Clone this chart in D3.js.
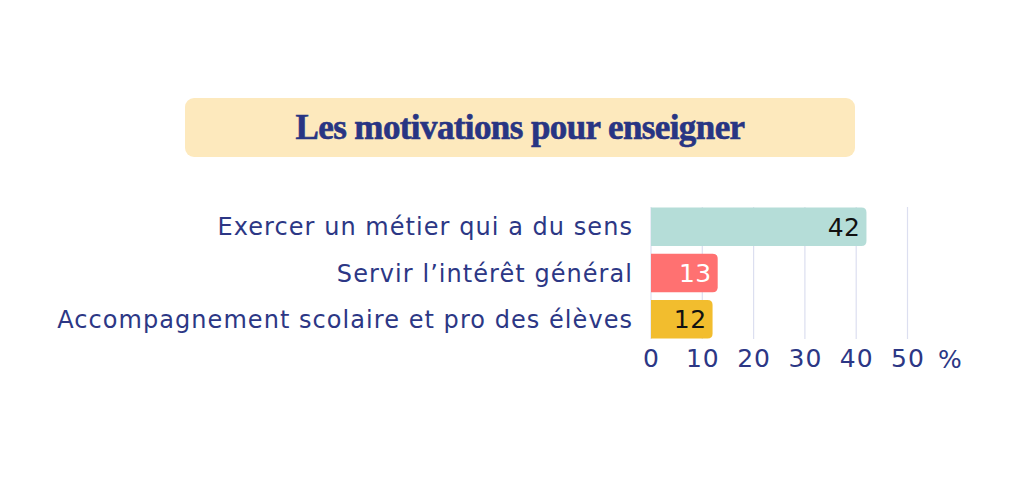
<!DOCTYPE html>
<html>
<head>
<meta charset="utf-8">
<script src="https://cdn.jsdelivr.net/npm/d3@7"></script>
<style>
  body { margin: 0; background: #fff; }
  svg { display: block; }
</style>
</head>
<body>
<svg id="chart" width="1024" height="488"></svg>
<script>
// data
let categories = ["Exercer un métier qui a du sens", "Servir l’intérêt général", "Accompagnement scolaire et pro des élèves"];
let values = [42, 13, 12];
let barColors = ["#b5ddd8", "#ff7171", "#f2bd2e"];
let labelColors = ["#111111", "#ffffff", "#111111"];
let tickValues = [0, 10, 20, 30, 40, 50];

let svg = d3.select("#chart");
let navy = "#2c3785";

// title box
svg.append("rect")
  .attr("x", 185).attr("y", 98)
  .attr("width", 670).attr("height", 59)
  .attr("rx", 9)
  .attr("fill", "#fde9bd");

svg.append("text")
  .attr("x", 520).attr("y", 139)
  .attr("text-anchor", "middle")
  .attr("font-family", "Liberation Serif, serif")
  .attr("font-weight", "bold")
  .attr("font-size", 35)
  .attr("letter-spacing", -0.6)
  .attr("fill", "#283583")
  .attr("stroke", "#283583")
  .attr("stroke-width", 0.6)
  .text("Les motivations pour enseigner");

let x = d3.scaleLinear().domain([0, 50]).range([651, 907.5]);
let y = d3.scaleBand().domain(categories).range([207.5, 338.5]).paddingInner(0.17);

// grid
svg.append("g")
  .selectAll("line")
  .data(tickValues)
  .join("line")
  .attr("x1", d => x(d)).attr("x2", d => x(d))
  .attr("y1", 207).attr("y2", 339)
  .attr("stroke", "#dcdff0")
  .attr("stroke-width", 1.2);

// bars, rounded right end only
function barPath(x0, x1, y0, h, r) {
  return "M" + x0 + "," + y0 +
    "H" + (x1 - r) +
    "Q" + x1 + "," + y0 + " " + x1 + "," + (y0 + r) +
    "V" + (y0 + h - r) +
    "Q" + x1 + "," + (y0 + h) + " " + (x1 - r) + "," + (y0 + h) +
    "H" + x0 + "Z";
}

svg.append("g")
  .selectAll("path")
  .data(categories)
  .join("path")
  .attr("d", (d, i) => barPath(x(0), x(values[i]), y(d), y.bandwidth(), 5))
  .attr("fill", (d, i) => barColors[i]);

// value labels
svg.append("g")
  .selectAll("text")
  .data(categories)
  .join("text")
  .attr("x", (d, i) => x(values[i]) - 6)
  .attr("y", d => y(d) + y.bandwidth() / 2)
  .attr("dy", "0.36em")
  .attr("text-anchor", "end")
  .attr("font-family", "DejaVu Sans, sans-serif")
  .attr("font-size", 25)
  .attr("letter-spacing", 0.5)
  .attr("fill", (d, i) => labelColors[i])
  .text((d, i) => values[i]);

// category labels
svg.append("g")
  .selectAll("text")
  .data(categories)
  .join("text")
  .attr("x", 633)
  .attr("y", d => y(d) + y.bandwidth() / 2)
  .attr("dy", "0.36em")
  .attr("text-anchor", "end")
  .attr("font-family", "DejaVu Sans, sans-serif")
  .attr("font-size", 24)
  .attr("letter-spacing", 1.05)
  .attr("fill", navy)
  .text(d => d);

// x axis
let axis = svg.append("g")
  .attr("transform", "translate(0,345)")
  .call(d3.axisBottom(x).tickValues(tickValues).tickSize(0).tickPadding(4));
axis.select(".domain").remove();
axis.selectAll("text")
  .attr("font-family", "DejaVu Sans, sans-serif")
  .attr("font-size", 25)
  .attr("letter-spacing", 1)
  .attr("fill", navy);

svg.append("text")
  .attr("x", 950).attr("y", 359)
  .attr("dy", "0.36em")
  .attr("text-anchor", "middle")
  .attr("font-family", "DejaVu Sans, sans-serif")
  .attr("font-size", 25)
  .attr("fill", navy)
  .text("%");
</script>
</body>
</html>
